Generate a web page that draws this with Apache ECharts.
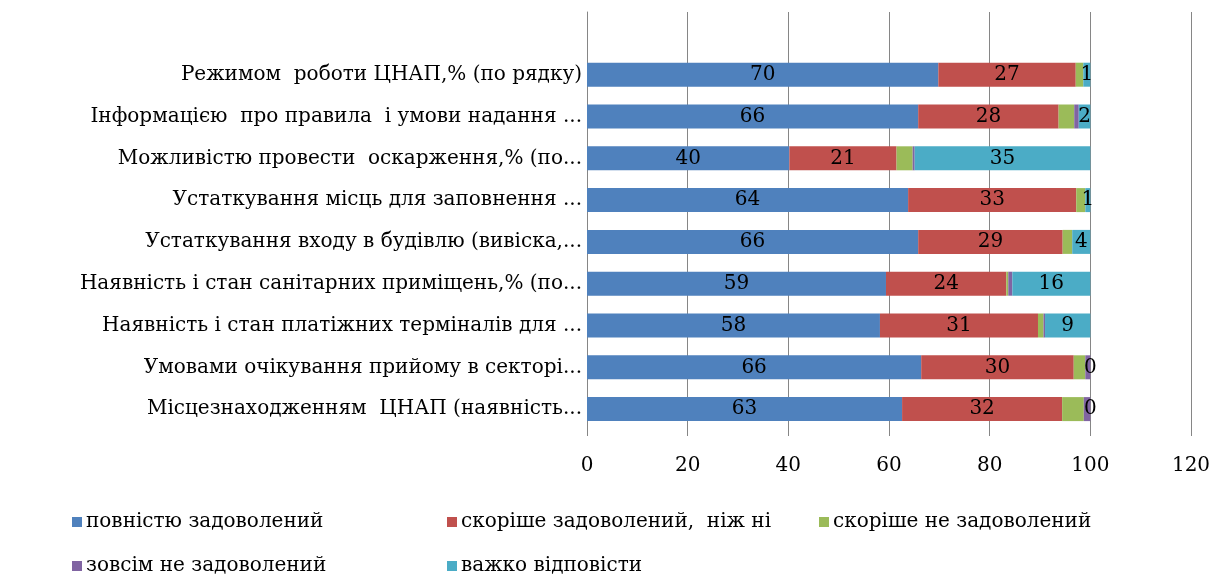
<!DOCTYPE html>
<html>
<head>
<meta charset="utf-8">
<script src="https://cdn.jsdelivr.net/npm/echarts@6/dist/echarts.min.js"></script>
<style>
html,body{margin:0;padding:0;background:#fff;}
#chart{width:1216px;height:574px;}
</style>
</head>
<body>
<div id="chart"></div>
<script>
// Categories, top to bottom (as displayed; Excel truncated long names)
const categories = [
  'Режимом  роботи ЦНАП,% (по рядку)',
  'Інформацією  про правила  і умови надання ...',
  'Можливістю провести  оскарження,% (по...',
  'Устаткування місць для заповнення ...',
  'Устаткування входу в будівлю (вивіска,...',
  'Наявність і стан санітарних приміщень,% (по...',
  'Наявність і стан платіжних терміналів для ...',
  'Умовами очікування прийому в секторі...',
  'Місцезнаходженням  ЦНАП (наявність...'
];
const seriesNames = [
  'повністю задоволений',
  'скоріше задоволений,  ніж ні',
  'скоріше не задоволений',
  'зовсім не задоволений',
  'важко відповісти'
];
const fullySatisfied   = [69.8, 65.8, 40.2, 63.8, 65.8, 59.4, 58.2, 66.4, 62.6];
const ratherSatisfied  = [27.3, 27.9, 21.3, 33.4, 28.7, 23.9, 31.4, 30.3, 31.8];
const ratherNot        = [1.5, 3.1, 3.2, 1.8, 1.9, 0.4, 1.1, 2.3, 4.3];
const notAtAll         = [0, 0.9, 0.4, 0, 0, 0.8, 0.3, 1.0, 1.3];
const hardToSay        = [1.4, 2.3, 34.9, 1.0, 3.6, 15.5, 9.0, 0, 0];
const xTicks = {min: 0, max: 120, interval: 20};

const colors = ['#4F81BD', '#C0504D', '#9BBB59', '#8064A2', '#4BACC6'];
const values = [fullySatisfied, ratherSatisfied, ratherNot, notAtAll, hardToSay];
const showLabel = [true, true, false, false, true];
const FONT = 'DejaVu Serif';

const cats = [''].concat(categories);
const series = seriesNames.map((name, i) => ({
  name: name,
  type: 'bar',
  stack: 'total',
  barWidth: 24,
  itemStyle: {color: colors[i]},
  label: {
    show: showLabel[i],
    position: 'inside',
    color: '#000',
    fontFamily: FONT,
    fontSize: 20,
    formatter: p => String(Math.round(p.value))
  },
  data: [null].concat(values[i])
}));

const legendPos = [
  {left: 67, top: 507},
  {left: 442, top: 507},
  {left: 814, top: 507},
  {left: 67, top: 551},
  {left: 442, top: 551}
];
const legends = seriesNames.map((n, i) => ({
  data: [n],
  left: legendPos[i].left,
  top: legendPos[i].top,
  itemWidth: 10,
  itemHeight: 10,
  icon: 'rect',
  itemGap: 0,
  textStyle: {fontFamily: FONT, fontSize: 20, color: '#000', padding: [0,0,0,-1]},
  selectedMode: false
}));

const chart = echarts.init(document.getElementById('chart'), null, {renderer: 'canvas'});
chart.setOption({
  animation: false,
  backgroundColor: '#fff',
  grid: {left: 587, right: 25, top: 12, bottom: 144, containLabel: false},
  legend: legends,
  xAxis: {
    type: 'value',
    min: xTicks.min, max: xTicks.max, interval: xTicks.interval,
    axisLine: {show: false},
    axisTick: {show: true, length: 6, lineStyle: {color: '#868686'}},
    splitLine: {show: true, lineStyle: {color: '#868686', width: 1}},
    axisLabel: {fontFamily: FONT, fontSize: 20, color: '#000', margin: 26}
  },
  yAxis: {
    type: 'category',
    inverse: true,
    data: cats,
    axisLine: {show: true, lineStyle: {color: '#868686'}},
    axisTick: {show: false},
    axisLabel: {fontFamily: FONT, fontSize: 20, color: '#000', margin: 5}
  },
  series: series
});
</script>
</body>
</html>
